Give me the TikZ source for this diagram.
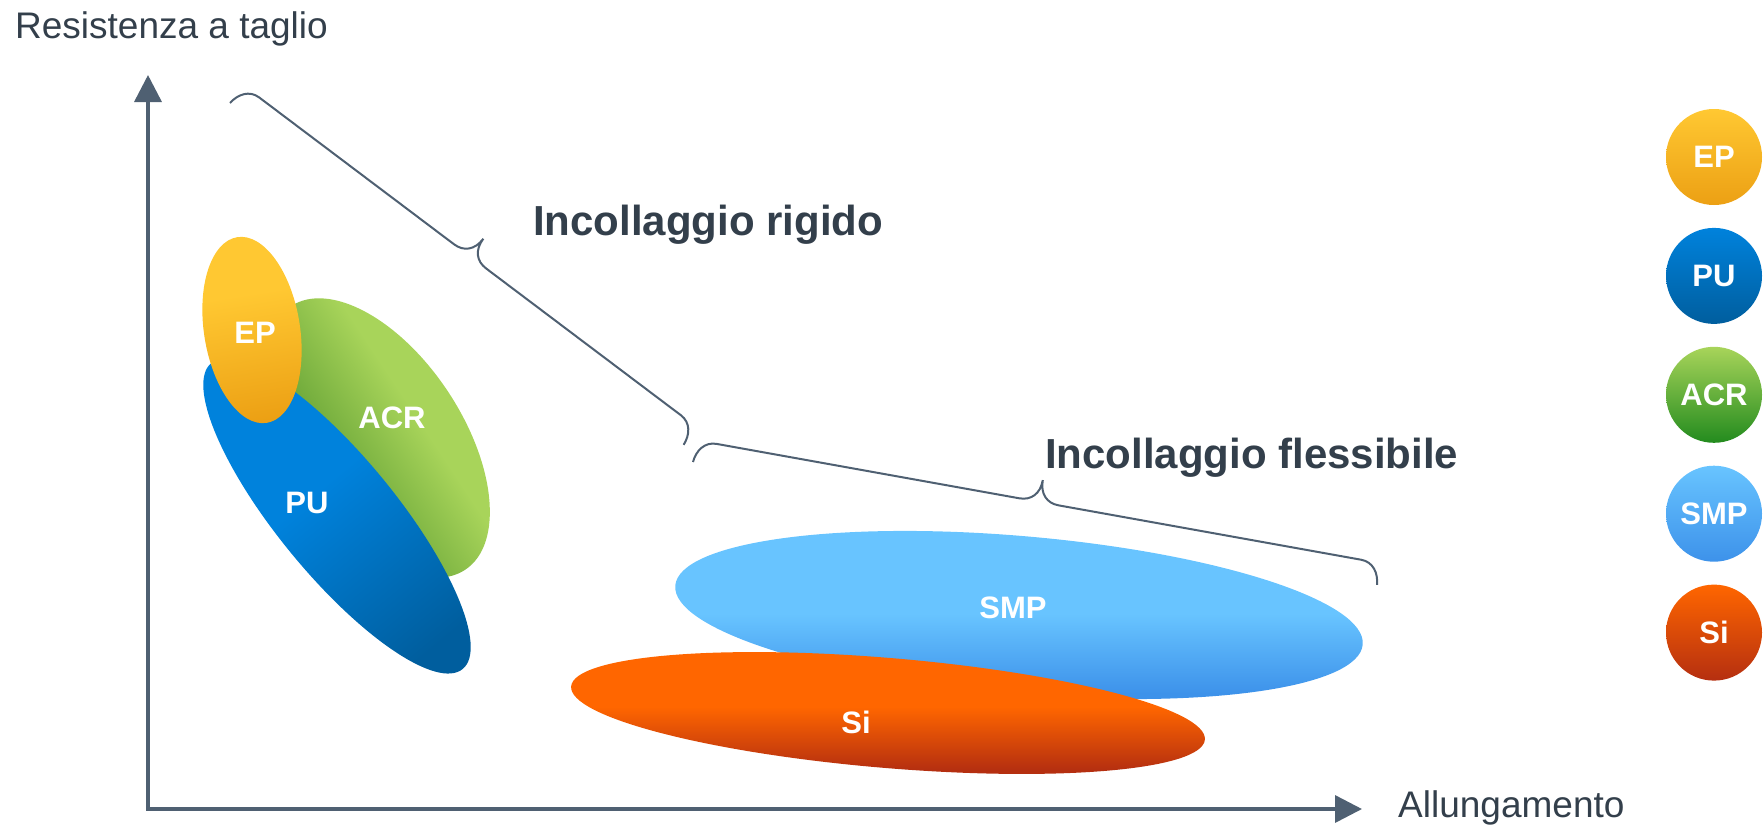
\documentclass[tikz,border=0pt]{standalone}
\usepackage{fontspec}
\setmainfont{Liberation Sans}
\usepackage{xcolor}
\definecolor{ink}{HTML}{333F4B}
\definecolor{slate}{HTML}{4F6072}
\definecolor{eplight}{HTML}{FFC832}
\definecolor{epdark}{HTML}{ECA014}
\definecolor{pulight}{HTML}{0082DC}
\definecolor{pudark}{HTML}{005E9E}
\definecolor{acrlight}{HTML}{A8D45A}
\definecolor{acrdark}{HTML}{6AA638}
\definecolor{acrdeep}{HTML}{238B1E}
\definecolor{smplight}{HTML}{68C4FF}
\definecolor{smpdark}{HTML}{3D92EA}
\definecolor{silight}{HTML}{FF6600}
\definecolor{sidark}{HTML}{B52F10}
\usepackage{tikz}
\usetikzlibrary{positioning,arrows.meta,shapes.geometric}
\pgfdeclareverticalshading{epfade}{100bp}{color(0bp)=(epdark); color(25bp)=(epdark); color(60bp)=(eplight); color(100bp)=(eplight)}
\pgfdeclareverticalshading{pufade}{100bp}{color(0bp)=(pudark); color(25bp)=(pudark); color(55bp)=(pulight); color(100bp)=(pulight)}
\pgfdeclareverticalshading{acrfade}{100bp}{color(0bp)=(acrdark); color(40bp)=(acrdark); color(58bp)=(acrlight); color(100bp)=(acrlight)}
\pgfdeclareverticalshading{smpfade}{100bp}{color(0bp)=(smpdark); color(25bp)=(smpdark); color(48bp)=(smplight); color(100bp)=(smplight)}
\pgfdeclareverticalshading{sifade}{100bp}{color(0bp)=(sidark); color(25bp)=(sidark); color(50bp)=(silight); color(100bp)=(silight)}
% brace: #1 start, #2 angle, #3 length
\newcommand{\rangebrace}[3]{%
  \begin{scope}[shift={#1}, rotate=#2]
    \draw[bracestroke] (0,0) .. controls (1,-12) and (8,-22) .. (20,-22)
      -- ({#3/2-20},-22) .. controls ({#3/2-8},-22) and ({#3/2},-30) .. ({#3/2},-44)
      .. controls ({#3/2},-30) and ({#3/2+8},-22) .. ({#3/2+20},-22)
      -- ({#3-20},-22) .. controls ({#3-8},-22) and ({#3-1},-12) .. (#3,0);
  \end{scope}}

\begin{document}
\begin{tikzpicture}[x=1pt, y=-1pt,
    blob/.style={ellipse, inner sep=0pt, shade},
    tag/.style={text=white, inner sep=0pt,
                font=\fontsize{31}{31}\selectfont\bfseries},
    key/.style={circle, minimum size=96pt, inner sep=0pt, text=white,
                font=\fontsize{31}{31}\selectfont\bfseries},
    axisline/.style={draw=slate, line width=3.5pt,
                     {Triangle[length=27pt,width=27pt]}-{Triangle[length=27pt,width=27pt]}},
    bracestroke/.style={draw=slate, line width=2pt},
    caption/.style={text=ink, inner sep=0pt, anchor=base west,
                    font=\fontsize{37}{37}\selectfont},
    heading/.style={caption, font=\fontsize{42}{42}\selectfont\bfseries}]
  \useasboundingbox (0,0) rectangle (1764,828);

  % axes
  \coordinate (origin) at (148,809);
  \coordinate (ytip) at (148,75);
  \coordinate (xtip) at (1362,809);
  \draw[axisline] (ytip) -- (origin) -- (xtip);
  \node[caption] (ylab) at (15,38) {Resistenza a taglio};
  \node[caption] (xlab) at (1398,817) {Allungamento};

  % rigid adhesives
  \node[blob, minimum width=316pt, minimum height=168pt, rotate=-56.5,
        shading=acrfade, shading angle=-56.5] (acr) at (378,438) {};
  \node[blob, minimum width=396pt, minimum height=118pt, rotate=-50.6,
        shading=pufade, shading angle=39.4] (pu) at (337,516) {};
  \node[blob, minimum width=96pt, minimum height=188pt, rotate=9,
        shading=epfade, shading angle=9] (ep) at (252,330) {};
  \node[tag] (eptxt) at (255,333) {EP};
  \node[tag] (putxt) at (307,503) {PU};
  \node[tag] (acrtxt) at (392,418) {ACR};

  % flexible adhesives
  \node[blob, minimum width=690pt, minimum height=158pt, rotate=-4.9,
        shading=smpfade] (smp) at (1019,615) {};
  \node[blob, minimum width=636pt, minimum height=110pt, rotate=-4.8,
        shading=sifade] (si) at (888,713) {};
  \node[tag] (smptxt) at (1013,608) {SMP};
  \node[tag] (sitxt) at (856,722) {Si};

  % braces
  \rangebrace{(230,103)}{-37}{568}
  \rangebrace{(693,462)}{-10.19}{695}
  \node[heading] (rigid) at (533,235) {Incollaggio rigido};
  \node[heading] (flex) at (1045,468) {Incollaggio flessibile};

  % legend
  \node[key, top color=eplight, bottom color=epdark] (k1) at (1714,157) {EP};
  \node[key, top color=pulight, bottom color=pudark, below=22.5pt of k1] (k2) {PU};
  \node[key, top color=acrlight, bottom color=acrdeep, below=22.5pt of k2] (k3) {ACR};
  \node[key, top color=smplight, bottom color=smpdark, below=22.5pt of k3] (k4) {SMP};
  \node[key, top color=silight, bottom color=sidark, below=22.5pt of k4] (k5) {Si};
\end{tikzpicture}
\end{document}
